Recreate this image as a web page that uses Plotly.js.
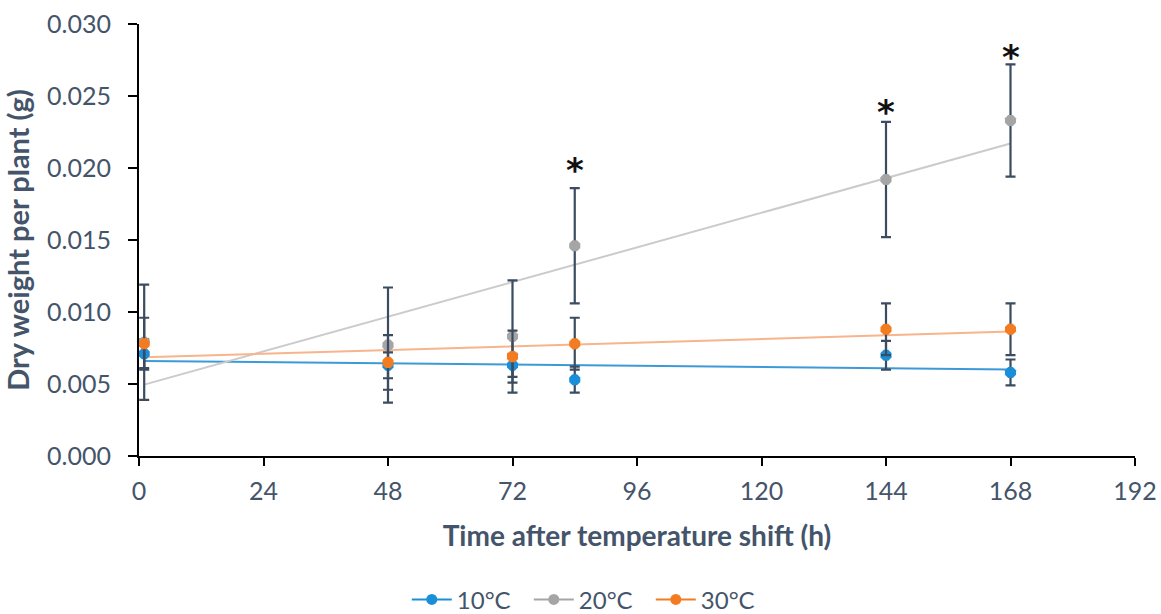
<!DOCTYPE html>
<html><head><meta charset="utf-8">
<script src="https://cdn.plot.ly/plotly-3.0.1.min.js"></script>
<style>body{margin:0;background:#fff}#chart{width:1161px;height:614px}</style>
</head><body><div id="chart"></div>
<script>
const hours = [1, 48, 72, 84, 144, 168];
const seriesNames = ['10°C', '20°C', '30°C'];
const dw10 = [0.0071, 0.0063, 0.0063, 0.0053, 0.0070, 0.0058];
const dw20 = [0.0079, 0.0077, 0.0083, 0.0146, 0.0192, 0.0233];
const dw30 = [0.0078, 0.0065, 0.0069, 0.0078, 0.0088, 0.0088];
const err10 = [0.0010, 0.0009, 0.0008, 0.0009, 0.0010, 0.0009];
const err20 = [0.0040, 0.0040, 0.0039, 0.0040, 0.0040, 0.0039];
const err30 = [0.0018, 0.0019, 0.0018, 0.0018, 0.0018, 0.0018];
const starHours = [84, 144, 168];
const starY = [0.0203, 0.0243, 0.0281];
const xTicks = [0, 24, 48, 72, 96, 120, 144, 168, 192];

const markerColors = ['#1a8fd9', '#a5a5a5', '#f47c20'];
const trendColors = ['#3d9ad8', '#cbcbcb', '#f8b48a'];
const errColor = '#3b4b60';
const txt = '#44546a';
const FONT = 'Lato, "Open Sans", sans-serif';

function linfit(x, y) {
  const n = x.length;
  const mx = x.reduce((a, b) => a + b, 0) / n;
  const my = y.reduce((a, b) => a + b, 0) / n;
  let sxy = 0, sxx = 0;
  for (let i = 0; i < n; i++) { sxy += (x[i] - mx) * (y[i] - my); sxx += (x[i] - mx) ** 2; }
  const m = sxy / sxx;
  return [m, my - m * mx];
}

const ys = [dw10, dw20, dw30];
const errs = [err10, err20, err30];
const traces = [];
ys.forEach((y, i) => {
  const [m, b] = linfit(hours, y);
  const xs = [hours[0], hours[hours.length - 1]];
  traces.push({x: xs, y: xs.map(v => m * v + b), mode: 'lines', showlegend: false,
    line: {color: trendColors[i], width: 2}, hoverinfo: 'skip'});
});
ys.forEach((y, i) => {
  traces.push({x: hours, y: y, mode: 'markers', showlegend: false, name: seriesNames[i],
    marker: {color: markerColors[i], size: 12, symbol: 'octagon'},
    error_y: {type: 'data', array: errs[i], visible: true, color: errColor, thickness: 2.2, width: 5}});
});
ys.forEach((y, i) => {
  traces.push({x: [null], y: [null], mode: 'lines+markers', name: seriesNames[i],
    line: {color: markerColors[i], width: 2}, marker: {color: markerColors[i], size: 11}});
});

const annotations = starHours.map((h, i) => ({x: h, y: starY[i], xref: 'x', yref: 'y', text: '<b>*</b>',
  showarrow: false, font: {family: '"DejaVu Sans", sans-serif', size: 34, color: '#111'}, yanchor: 'middle', yshift: -6}));

const layout = {
  width: 1161, height: 614,
  margin: {l: 139, r: 26, t: 24, b: 158},
  paper_bgcolor: '#fff', plot_bgcolor: '#fff',
  font: {family: FONT, color: txt, size: 26},
  xaxis: {range: [0, 192], tickvals: xTicks, ticktext: xTicks.map(String), automargin: false,
    showgrid: false, zeroline: false, showline: true, linecolor: '#000', linewidth: 2,
    ticks: 'outside', ticklen: 8, tickwidth: 2, tickcolor: '#000', ticklabelstandoff: 4,
    tickfont: {size: 25, color: txt},
    title: {text: '<b>Time after temperature shift (h)</b>', font: {size: 28, color: txt}, standoff: 22}},
  yaxis: {range: [0, 0.030], dtick: 0.005, tickformat: '.3f', automargin: false,
    showgrid: false, zeroline: false, showline: true, linecolor: '#000', linewidth: 2,
    ticks: 'outside', ticklen: 9, tickwidth: 2, tickcolor: '#000', ticklabelstandoff: 12,
    tickfont: {size: 25, color: txt},
    title: {text: '<b>Dry weight per plant (g)</b>', font: {size: 29, color: txt}, standoff: 10}},
  showlegend: true,
  legend: {orientation: 'h', x: 0.508, xanchor: 'center', xref: 'container', y: 0.023, yref: 'container', yanchor: 'middle',
    font: {size: 24, color: txt}, itemwidth: 40, entrywidth: 67, entrywidthmode: 'pixels'},
  annotations: annotations
};
Plotly.newPlot('chart', traces, layout, {displayModeBar: false});
</script></body></html>
